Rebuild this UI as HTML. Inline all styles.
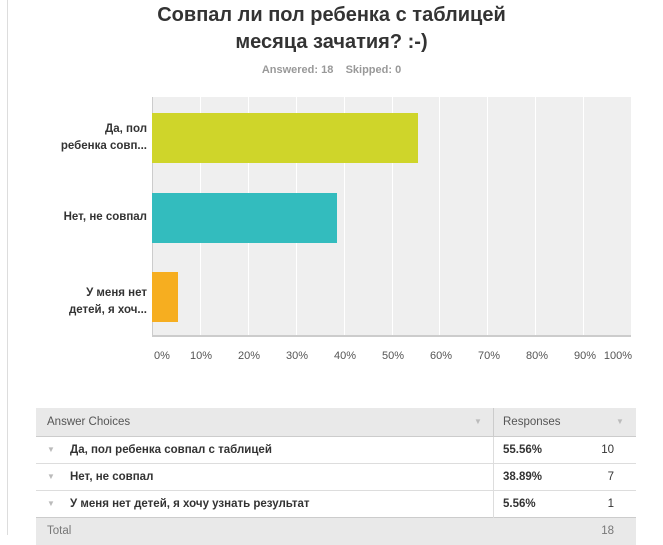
<!DOCTYPE html><html><head><style>
body{margin:0;width:663px;height:535px;background:#fff;font-family:"Liberation Sans",Arial,sans-serif;position:relative;overflow:hidden}
.a{position:absolute}
.t{left:0;width:663px;text-align:center;top:2px;font-size:20px;font-weight:bold;color:#333;line-height:27px}
.s{top:64px;left:0;width:663px;text-align:center;font-size:11px;font-weight:bold;color:#999}
.grid{top:97px;left:152px;width:479px;height:240px;background:#efefef}
.g{position:absolute;top:0;width:1px;height:240px;background:#fff}
.lb{font-size:11.5px;font-weight:bold;color:#333;text-align:right;right:516px;line-height:17px}
.tk{top:350px;font-size:11px;color:#555;width:40px;text-align:center}
.r{position:absolute;left:36px;width:600px;font-size:11.5px;color:#333;border-bottom:1px solid #ddd;box-sizing:border-box}
.r span{position:absolute;top:0}
.ar{color:#bbb;font-size:8px}
</style></head><body>
<div class="a" style="left:7px;top:0;width:1px;height:535px;background:#ddd"></div>
<div class="a t">Совпал ли пол ребенка с таблицей<br>месяца зачатия? :-)</div>
<div class="a s">Answered: 18 &nbsp;&nbsp; Skipped: 0</div>
<div class="a grid">
<div class="g" style="left:48px"></div><div class="g" style="left:96px"></div><div class="g" style="left:144px"></div><div class="g" style="left:192px"></div><div class="g" style="left:240px"></div><div class="g" style="left:287px"></div><div class="g" style="left:335px"></div><div class="g" style="left:383px"></div><div class="g" style="left:431px"></div>
<div class="a" style="left:0;top:0;width:1px;height:240px;background:#ccc"></div>
<div class="a" style="left:0;top:238px;width:479px;height:2px;background:#ccc"></div>
<div class="a" style="left:0;top:16px;width:266px;height:50px;background:#cfd52a"></div>
<div class="a" style="left:0;top:96px;width:185px;height:50px;background:#33bcbe"></div>
<div class="a" style="left:0;top:175px;width:26px;height:50px;background:#f6ae20"></div>
</div>
<div class="a lb" style="top:121px">Да, пол<br>ребенка совп...</div>
<div class="a lb" style="top:209px">Нет, не совпал</div>
<div class="a lb" style="top:285px">У меня нет<br>детей, я хоч...</div>
<div class="a tk" style="left:142px">0%</div><div class="a tk" style="left:181px">10%</div><div class="a tk" style="left:229px">20%</div><div class="a tk" style="left:277px">30%</div><div class="a tk" style="left:325px">40%</div><div class="a tk" style="left:373px">50%</div><div class="a tk" style="left:421px">60%</div><div class="a tk" style="left:469px">70%</div><div class="a tk" style="left:517px">80%</div><div class="a tk" style="left:565px">90%</div><div class="a tk" style="left:598px">100%</div>

<div class="r" style="top:408px;height:29px;line-height:28px;background:#e9e9e9;color:#555;border-bottom-color:#ccc">
<span style="left:11px">Answer Choices</span><span class="ar" style="left:438px">▼</span>
<span style="left:457px;width:1px;height:29px;background:#ccc"></span>
<span style="left:467px">Responses</span><span class="ar" style="left:580px">▼</span></div>
<div class="r" style="top:437px;height:27px;line-height:26px;font-weight:bold">
<span class="ar" style="left:11px">▼</span><span style="left:34px">Да, пол ребенка совпал с таблицей</span>
<span style="left:457px;width:1px;height:27px;background:#ddd"></span><span style="left:467px">55.56%</span><span style="right:22px;font-weight:normal">10</span></div>
<div class="r" style="top:464px;height:27px;line-height:26px;font-weight:bold">
<span class="ar" style="left:11px">▼</span><span style="left:34px">Нет, не совпал</span>
<span style="left:457px;width:1px;height:27px;background:#ddd"></span><span style="left:467px">38.89%</span><span style="right:22px;font-weight:normal">7</span></div>
<div class="r" style="top:491px;height:27px;line-height:26px;font-weight:bold;border-bottom-color:#ccc">
<span class="ar" style="left:11px">▼</span><span style="left:34px">У меня нет детей, я хочу узнать результат</span>
<span style="left:457px;width:1px;height:27px;background:#ddd"></span><span style="left:467px">5.56%</span><span style="right:22px;font-weight:normal">1</span></div>
<div class="r" style="top:518px;height:27px;line-height:26px;background:#e9e9e9;color:#777;border:0">
<span style="left:11px">Total</span><span style="right:22px">18</span></div>
</body></html>
